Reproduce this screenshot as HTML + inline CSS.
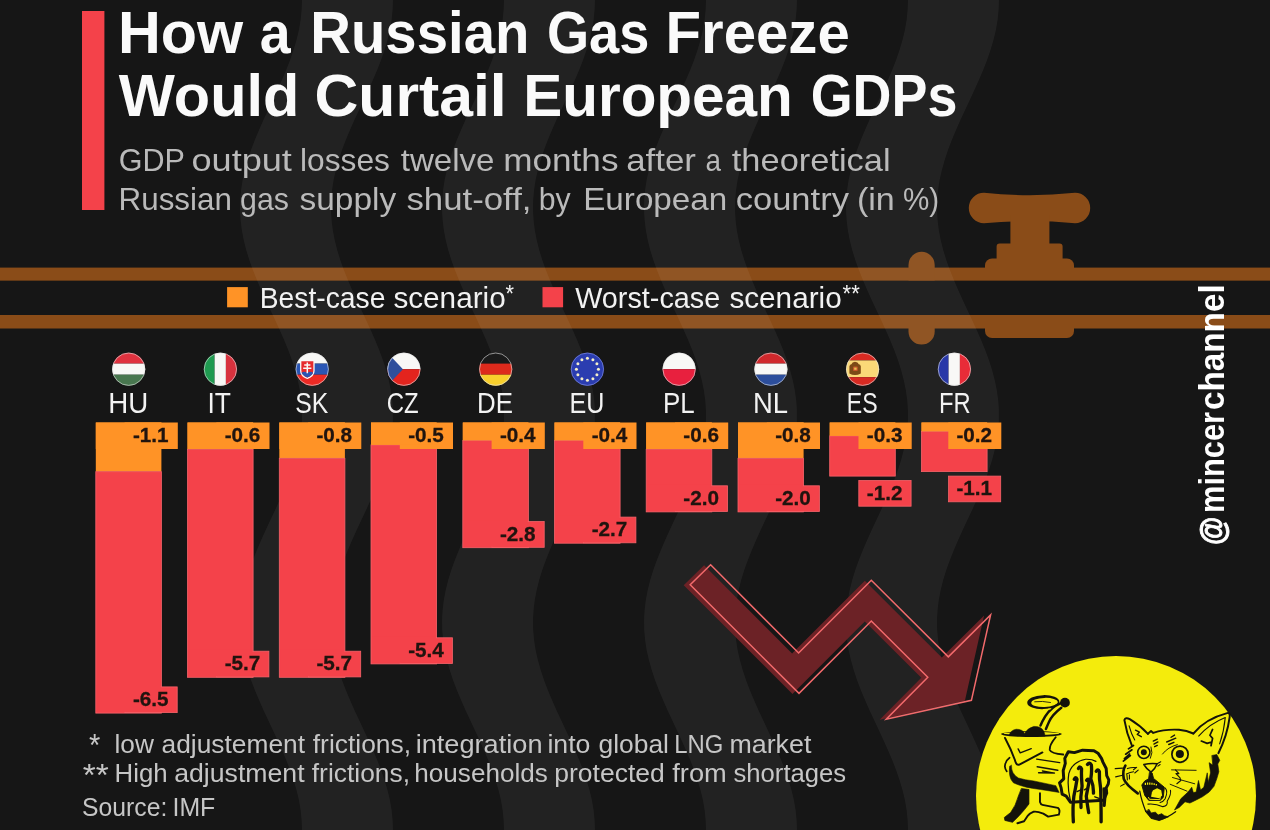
<!DOCTYPE html>
<html lang="en"><head><meta charset="utf-8"><title>How a Russian Gas Freeze Would Curtail European GDPs</title>
<style>
html,body{margin:0;padding:0;background:#161616;}
body{width:1270px;height:830px;overflow:hidden;}
svg{display:block;will-change:transform;}
text{font-family:"Liberation Sans", sans-serif;}
.t{font-weight:700;font-size:59px;fill:#fafafa;}
.st{font-size:32px;fill:#bababa;}
.lg{font-size:29.5px;fill:#f2f2f2;}
.cc{font-size:29.5px;fill:#f2f2f2;}
.v{font-weight:700;font-size:20.7px;fill:#20140f;stroke:#20140f;stroke-width:0.3px;}
.fn{font-size:25px;fill:#c6c6c6;}
.ch{font-weight:700;font-size:35.5px;fill:#ffffff;}
</style></head><body>
<svg width="1270" height="830" viewBox="0 0 1270 830">
<defs><clipPath id="fc"><circle cx="0" cy="0" r="16.5"/></clipPath></defs>
<rect width="1270" height="830" fill="#161616"/>
<g id="pipes" fill="#8a4c18">
<rect x="0" y="267.6" width="1270" height="13.2"/>
<rect x="0" y="315.0" width="1270" height="13.5"/>
<rect x="908.5" y="251.8" width="26.2" height="92.8" rx="13.1"/>
<path d="M984 192.8 Q1029.5 197.5 1075 192.8 A15.2 15.2 0 0 1 1075 223.2 Q1029.5 218.8 984 223.2 A15.2 15.2 0 0 1 984 192.8Z"/>
<rect x="1010.4" y="215" width="39" height="32"/>
<path d="M996.6 246.4 a3 3 0 0 1 3 -3 h60 a3 3 0 0 1 3 3 v14 h-66z"/>
<path d="M985 268.5 v-3 a7 7 0 0 1 7 -7 h75 a7 7 0 0 1 7 7 v3z"/>
<path d="M985 328 h89 v3 a7 7 0 0 1 -7 7 h-75 a7 7 0 0 1 -7 -7z"/>
</g>
<rect x="0" y="280.8" width="1270" height="34.2" fill="#161616"/>
<g id="waves" fill="#ffffff" fill-opacity="0.055">
<path d="M301.6 -10.0 L302.0 0.0 L301.6 10.0 L300.6 20.0 L298.9 30.0 L296.5 40.0 L293.5 50.0 L290.1 60.0 L286.2 70.0 L281.9 80.0 L277.4 90.0 L272.8 100.0 L268.1 110.0 L263.4 120.0 L259.0 130.0 L254.8 140.0 L251.0 150.0 L247.7 160.0 L244.9 170.0 L242.6 180.0 L241.1 190.0 L240.2 200.0 L240.0 210.0 L240.6 220.0 L241.8 230.0 L243.7 240.0 L246.2 250.0 L249.3 260.0 L252.9 270.0 L256.9 280.0 L261.2 290.0 L265.7 300.0 L270.4 310.0 L275.1 320.0 L279.7 330.0 L284.1 340.0 L288.2 350.0 L291.9 360.0 L295.1 370.0 L297.7 380.0 L299.8 390.0 L301.2 400.0 L301.9 410.0 L301.9 420.0 L301.2 430.0 L299.8 440.0 L297.7 450.0 L295.1 460.0 L291.9 470.0 L288.2 480.0 L284.1 490.0 L279.7 500.0 L275.1 510.0 L270.4 520.0 L265.7 530.0 L261.2 540.0 L256.9 550.0 L252.9 560.0 L249.3 570.0 L246.2 580.0 L243.7 590.0 L241.8 600.0 L240.6 610.0 L240.0 620.0 L240.2 630.0 L241.1 640.0 L242.6 650.0 L244.9 660.0 L247.7 670.0 L251.0 680.0 L254.8 690.0 L259.0 700.0 L263.4 710.0 L268.1 720.0 L272.8 730.0 L277.4 740.0 L281.9 750.0 L286.2 760.0 L290.1 770.0 L293.5 780.0 L296.5 790.0 L298.9 800.0 L300.6 810.0 L301.6 820.0 L302.0 830.0 L301.6 840.0 L392.6 840.0 L393.0 830.0 L392.6 820.0 L391.6 810.0 L389.9 800.0 L387.5 790.0 L384.5 780.0 L381.1 770.0 L377.2 760.0 L372.9 750.0 L368.4 740.0 L363.8 730.0 L359.1 720.0 L354.4 710.0 L350.0 700.0 L345.8 690.0 L342.0 680.0 L338.7 670.0 L335.9 660.0 L333.6 650.0 L332.1 640.0 L331.2 630.0 L331.0 620.0 L331.6 610.0 L332.8 600.0 L334.7 590.0 L337.2 580.0 L340.3 570.0 L343.9 560.0 L347.9 550.0 L352.2 540.0 L356.7 530.0 L361.4 520.0 L366.1 510.0 L370.7 500.0 L375.1 490.0 L379.2 480.0 L382.9 470.0 L386.1 460.0 L388.7 450.0 L390.8 440.0 L392.2 430.0 L392.9 420.0 L392.9 410.0 L392.2 400.0 L390.8 390.0 L388.7 380.0 L386.1 370.0 L382.9 360.0 L379.2 350.0 L375.1 340.0 L370.7 330.0 L366.1 320.0 L361.4 310.0 L356.7 300.0 L352.2 290.0 L347.9 280.0 L343.9 270.0 L340.3 260.0 L337.2 250.0 L334.7 240.0 L332.8 230.0 L331.6 220.0 L331.0 210.0 L331.2 200.0 L332.1 190.0 L333.6 180.0 L335.9 170.0 L338.7 160.0 L342.0 150.0 L345.8 140.0 L350.0 130.0 L354.4 120.0 L359.1 110.0 L363.8 100.0 L368.4 90.0 L372.9 80.0 L377.2 70.0 L381.1 60.0 L384.5 50.0 L387.5 40.0 L389.9 30.0 L391.6 20.0 L392.6 10.0 L393.0 0.0 L392.6 -10.0Z"/>
<path d="M503.6 -10.0 L504.0 0.0 L503.6 10.0 L502.6 20.0 L500.9 30.0 L498.5 40.0 L495.5 50.0 L492.1 60.0 L488.2 70.0 L483.9 80.0 L479.4 90.0 L474.8 100.0 L470.1 110.0 L465.4 120.0 L461.0 130.0 L456.8 140.0 L453.0 150.0 L449.7 160.0 L446.9 170.0 L444.6 180.0 L443.1 190.0 L442.2 200.0 L442.0 210.0 L442.6 220.0 L443.8 230.0 L445.7 240.0 L448.2 250.0 L451.3 260.0 L454.9 270.0 L458.9 280.0 L463.2 290.0 L467.7 300.0 L472.4 310.0 L477.1 320.0 L481.7 330.0 L486.1 340.0 L490.2 350.0 L493.9 360.0 L497.1 370.0 L499.7 380.0 L501.8 390.0 L503.2 400.0 L503.9 410.0 L503.9 420.0 L503.2 430.0 L501.8 440.0 L499.7 450.0 L497.1 460.0 L493.9 470.0 L490.2 480.0 L486.1 490.0 L481.7 500.0 L477.1 510.0 L472.4 520.0 L467.7 530.0 L463.2 540.0 L458.9 550.0 L454.9 560.0 L451.3 570.0 L448.2 580.0 L445.7 590.0 L443.8 600.0 L442.6 610.0 L442.0 620.0 L442.2 630.0 L443.1 640.0 L444.6 650.0 L446.9 660.0 L449.7 670.0 L453.0 680.0 L456.8 690.0 L461.0 700.0 L465.4 710.0 L470.1 720.0 L474.8 730.0 L479.4 740.0 L483.9 750.0 L488.2 760.0 L492.1 770.0 L495.5 780.0 L498.5 790.0 L500.9 800.0 L502.6 810.0 L503.6 820.0 L504.0 830.0 L503.6 840.0 L594.6 840.0 L595.0 830.0 L594.6 820.0 L593.6 810.0 L591.9 800.0 L589.5 790.0 L586.5 780.0 L583.1 770.0 L579.2 760.0 L574.9 750.0 L570.4 740.0 L565.8 730.0 L561.1 720.0 L556.4 710.0 L552.0 700.0 L547.8 690.0 L544.0 680.0 L540.7 670.0 L537.9 660.0 L535.6 650.0 L534.1 640.0 L533.2 630.0 L533.0 620.0 L533.6 610.0 L534.8 600.0 L536.7 590.0 L539.2 580.0 L542.3 570.0 L545.9 560.0 L549.9 550.0 L554.2 540.0 L558.7 530.0 L563.4 520.0 L568.1 510.0 L572.7 500.0 L577.1 490.0 L581.2 480.0 L584.9 470.0 L588.1 460.0 L590.7 450.0 L592.8 440.0 L594.2 430.0 L594.9 420.0 L594.9 410.0 L594.2 400.0 L592.8 390.0 L590.7 380.0 L588.1 370.0 L584.9 360.0 L581.2 350.0 L577.1 340.0 L572.7 330.0 L568.1 320.0 L563.4 310.0 L558.7 300.0 L554.2 290.0 L549.9 280.0 L545.9 270.0 L542.3 260.0 L539.2 250.0 L536.7 240.0 L534.8 230.0 L533.6 220.0 L533.0 210.0 L533.2 200.0 L534.1 190.0 L535.6 180.0 L537.9 170.0 L540.7 160.0 L544.0 150.0 L547.8 140.0 L552.0 130.0 L556.4 120.0 L561.1 110.0 L565.8 100.0 L570.4 90.0 L574.9 80.0 L579.2 70.0 L583.1 60.0 L586.5 50.0 L589.5 40.0 L591.9 30.0 L593.6 20.0 L594.6 10.0 L595.0 0.0 L594.6 -10.0Z"/>
<path d="M705.6 -10.0 L706.0 0.0 L705.6 10.0 L704.6 20.0 L702.9 30.0 L700.5 40.0 L697.5 50.0 L694.1 60.0 L690.2 70.0 L685.9 80.0 L681.4 90.0 L676.8 100.0 L672.1 110.0 L667.4 120.0 L663.0 130.0 L658.8 140.0 L655.0 150.0 L651.7 160.0 L648.9 170.0 L646.6 180.0 L645.1 190.0 L644.2 200.0 L644.0 210.0 L644.6 220.0 L645.8 230.0 L647.7 240.0 L650.2 250.0 L653.3 260.0 L656.9 270.0 L660.9 280.0 L665.2 290.0 L669.7 300.0 L674.4 310.0 L679.1 320.0 L683.7 330.0 L688.1 340.0 L692.2 350.0 L695.9 360.0 L699.1 370.0 L701.7 380.0 L703.8 390.0 L705.2 400.0 L705.9 410.0 L705.9 420.0 L705.2 430.0 L703.8 440.0 L701.7 450.0 L699.1 460.0 L695.9 470.0 L692.2 480.0 L688.1 490.0 L683.7 500.0 L679.1 510.0 L674.4 520.0 L669.7 530.0 L665.2 540.0 L660.9 550.0 L656.9 560.0 L653.3 570.0 L650.2 580.0 L647.7 590.0 L645.8 600.0 L644.6 610.0 L644.0 620.0 L644.2 630.0 L645.1 640.0 L646.6 650.0 L648.9 660.0 L651.7 670.0 L655.0 680.0 L658.8 690.0 L663.0 700.0 L667.4 710.0 L672.1 720.0 L676.8 730.0 L681.4 740.0 L685.9 750.0 L690.2 760.0 L694.1 770.0 L697.5 780.0 L700.5 790.0 L702.9 800.0 L704.6 810.0 L705.6 820.0 L706.0 830.0 L705.6 840.0 L796.6 840.0 L797.0 830.0 L796.6 820.0 L795.6 810.0 L793.9 800.0 L791.5 790.0 L788.5 780.0 L785.1 770.0 L781.2 760.0 L776.9 750.0 L772.4 740.0 L767.8 730.0 L763.1 720.0 L758.4 710.0 L754.0 700.0 L749.8 690.0 L746.0 680.0 L742.7 670.0 L739.9 660.0 L737.6 650.0 L736.1 640.0 L735.2 630.0 L735.0 620.0 L735.6 610.0 L736.8 600.0 L738.7 590.0 L741.2 580.0 L744.3 570.0 L747.9 560.0 L751.9 550.0 L756.2 540.0 L760.7 530.0 L765.4 520.0 L770.1 510.0 L774.7 500.0 L779.1 490.0 L783.2 480.0 L786.9 470.0 L790.1 460.0 L792.7 450.0 L794.8 440.0 L796.2 430.0 L796.9 420.0 L796.9 410.0 L796.2 400.0 L794.8 390.0 L792.7 380.0 L790.1 370.0 L786.9 360.0 L783.2 350.0 L779.1 340.0 L774.7 330.0 L770.1 320.0 L765.4 310.0 L760.7 300.0 L756.2 290.0 L751.9 280.0 L747.9 270.0 L744.3 260.0 L741.2 250.0 L738.7 240.0 L736.8 230.0 L735.6 220.0 L735.0 210.0 L735.2 200.0 L736.1 190.0 L737.6 180.0 L739.9 170.0 L742.7 160.0 L746.0 150.0 L749.8 140.0 L754.0 130.0 L758.4 120.0 L763.1 110.0 L767.8 100.0 L772.4 90.0 L776.9 80.0 L781.2 70.0 L785.1 60.0 L788.5 50.0 L791.5 40.0 L793.9 30.0 L795.6 20.0 L796.6 10.0 L797.0 0.0 L796.6 -10.0Z"/>
<path d="M907.6 -10.0 L908.0 0.0 L907.6 10.0 L906.6 20.0 L904.9 30.0 L902.5 40.0 L899.5 50.0 L896.1 60.0 L892.2 70.0 L887.9 80.0 L883.4 90.0 L878.8 100.0 L874.1 110.0 L869.4 120.0 L865.0 130.0 L860.8 140.0 L857.0 150.0 L853.7 160.0 L850.9 170.0 L848.6 180.0 L847.1 190.0 L846.2 200.0 L846.0 210.0 L846.6 220.0 L847.8 230.0 L849.7 240.0 L852.2 250.0 L855.3 260.0 L858.9 270.0 L862.9 280.0 L867.2 290.0 L871.7 300.0 L876.4 310.0 L881.1 320.0 L885.7 330.0 L890.1 340.0 L894.2 350.0 L897.9 360.0 L901.1 370.0 L903.7 380.0 L905.8 390.0 L907.2 400.0 L907.9 410.0 L907.9 420.0 L907.2 430.0 L905.8 440.0 L903.7 450.0 L901.1 460.0 L897.9 470.0 L894.2 480.0 L890.1 490.0 L885.7 500.0 L881.1 510.0 L876.4 520.0 L871.7 530.0 L867.2 540.0 L862.9 550.0 L858.9 560.0 L855.3 570.0 L852.2 580.0 L849.7 590.0 L847.8 600.0 L846.6 610.0 L846.0 620.0 L846.2 630.0 L847.1 640.0 L848.6 650.0 L850.9 660.0 L853.7 670.0 L857.0 680.0 L860.8 690.0 L865.0 700.0 L869.4 710.0 L874.1 720.0 L878.8 730.0 L883.4 740.0 L887.9 750.0 L892.2 760.0 L896.1 770.0 L899.5 780.0 L902.5 790.0 L904.9 800.0 L906.6 810.0 L907.6 820.0 L908.0 830.0 L907.6 840.0 L998.6 840.0 L999.0 830.0 L998.6 820.0 L997.6 810.0 L995.9 800.0 L993.5 790.0 L990.5 780.0 L987.1 770.0 L983.2 760.0 L978.9 750.0 L974.4 740.0 L969.8 730.0 L965.1 720.0 L960.4 710.0 L956.0 700.0 L951.8 690.0 L948.0 680.0 L944.7 670.0 L941.9 660.0 L939.6 650.0 L938.1 640.0 L937.2 630.0 L937.0 620.0 L937.6 610.0 L938.8 600.0 L940.7 590.0 L943.2 580.0 L946.3 570.0 L949.9 560.0 L953.9 550.0 L958.2 540.0 L962.7 530.0 L967.4 520.0 L972.1 510.0 L976.7 500.0 L981.1 490.0 L985.2 480.0 L988.9 470.0 L992.1 460.0 L994.7 450.0 L996.8 440.0 L998.2 430.0 L998.9 420.0 L998.9 410.0 L998.2 400.0 L996.8 390.0 L994.7 380.0 L992.1 370.0 L988.9 360.0 L985.2 350.0 L981.1 340.0 L976.7 330.0 L972.1 320.0 L967.4 310.0 L962.7 300.0 L958.2 290.0 L953.9 280.0 L949.9 270.0 L946.3 260.0 L943.2 250.0 L940.7 240.0 L938.8 230.0 L937.6 220.0 L937.0 210.0 L937.2 200.0 L938.1 190.0 L939.6 180.0 L941.9 170.0 L944.7 160.0 L948.0 150.0 L951.8 140.0 L956.0 130.0 L960.4 120.0 L965.1 110.0 L969.8 100.0 L974.4 90.0 L978.9 80.0 L983.2 70.0 L987.1 60.0 L990.5 50.0 L993.5 40.0 L995.9 30.0 L997.6 20.0 L998.6 10.0 L999.0 0.0 L998.6 -10.0Z"/>
</g>
<rect x="82" y="11" width="22.4" height="199" fill="#f4424a"/>
<text class="t" y="52.7"><tspan x="118.0" textLength="125.1" lengthAdjust="spacingAndGlyphs">How</tspan> <tspan x="259.8" textLength="30.9" lengthAdjust="spacingAndGlyphs">a</tspan> <tspan x="310.3" textLength="219.1" lengthAdjust="spacingAndGlyphs">Russian</tspan> <tspan x="546.9" textLength="102.4" lengthAdjust="spacingAndGlyphs">Gas</tspan> <tspan x="665.5" textLength="184.3" lengthAdjust="spacingAndGlyphs">Freeze</tspan></text>
<text class="t" y="115.6"><tspan x="118.8" textLength="180.6" lengthAdjust="spacingAndGlyphs">Would</tspan> <tspan x="314.5" textLength="192.2" lengthAdjust="spacingAndGlyphs">Curtail</tspan> <tspan x="523.2" textLength="269.6" lengthAdjust="spacingAndGlyphs">European</tspan> <tspan x="810.7" textLength="146.7" lengthAdjust="spacingAndGlyphs">GDPs</tspan></text>
<text class="st" y="171.0"><tspan x="118.7" textLength="65.7" lengthAdjust="spacingAndGlyphs">GDP</tspan> <tspan x="191.5" textLength="100.4" lengthAdjust="spacingAndGlyphs">output</tspan> <tspan x="300.0" textLength="89.9" lengthAdjust="spacingAndGlyphs">losses</tspan> <tspan x="400.8" textLength="93.7" lengthAdjust="spacingAndGlyphs">twelve</tspan> <tspan x="503.2" textLength="115.3" lengthAdjust="spacingAndGlyphs">months</tspan> <tspan x="626.2" textLength="69.8" lengthAdjust="spacingAndGlyphs">after</tspan> <tspan x="705.5" textLength="15.5" lengthAdjust="spacingAndGlyphs">a</tspan> <tspan x="731.8" textLength="158.8" lengthAdjust="spacingAndGlyphs">theoretical</tspan></text>
<text class="st" y="210.0"><tspan x="118.6" textLength="113.3" lengthAdjust="spacingAndGlyphs">Russian</tspan> <tspan x="240.1" textLength="48.9" lengthAdjust="spacingAndGlyphs">gas</tspan> <tspan x="299.5" textLength="96.7" lengthAdjust="spacingAndGlyphs">supply</tspan> <tspan x="406.4" textLength="125.1" lengthAdjust="spacingAndGlyphs">shut-off,</tspan> <tspan x="538.8" textLength="31.9" lengthAdjust="spacingAndGlyphs">by</tspan> <tspan x="583.2" textLength="144.1" lengthAdjust="spacingAndGlyphs">European</tspan> <tspan x="735.7" textLength="113.2" lengthAdjust="spacingAndGlyphs">country</tspan> <tspan x="856.9" textLength="37.9" lengthAdjust="spacingAndGlyphs">(in</tspan> <tspan x="903.0" textLength="36.2" lengthAdjust="spacingAndGlyphs">%)</tspan></text>
<rect x="227.1" y="287.1" width="20.7" height="20.2" fill="#ff9326"/>
<text class="lg" y="307.7"><tspan x="259.7" textLength="125.7" lengthAdjust="spacingAndGlyphs">Best-case</tspan> <tspan x="393.4" textLength="112.3" lengthAdjust="spacingAndGlyphs">scenario</tspan></text>
<text class="lg" y="301.7" style="font-size:23px"><tspan x="505.6" textLength="8.5" lengthAdjust="spacingAndGlyphs">*</tspan></text>
<rect x="542.5" y="287.1" width="20.6" height="20.2" fill="#f4424a"/>
<text class="lg" y="307.7"><tspan x="575.2" textLength="145.1" lengthAdjust="spacingAndGlyphs">Worst-case</tspan> <tspan x="729.4" textLength="112.3" lengthAdjust="spacingAndGlyphs">scenario</tspan></text>
<text class="lg" y="301.7" style="font-size:23px"><tspan x="842.6" textLength="17.2" lengthAdjust="spacingAndGlyphs">**</tspan></text>
<rect x="95.8" y="422.5" width="65.6" height="49.2" fill="#ff9326"/>
<rect x="95.8" y="471.7" width="65.6" height="241.4" fill="#f4424a" stroke="#f7636a" stroke-width="0.8"/>
<rect x="124.6" y="422.5" width="53.2" height="26.5" fill="#ff9326"/>
<rect x="95.8" y="422.5" width="65.6" height="26.5" fill="#ff9326"/>
<rect x="124.9" y="686.9" width="52.3" height="25.7" fill="#f4424a" stroke="#f7636a" stroke-width="0.8"/>
<rect x="96.8" y="685.5" width="64.0" height="26.5" fill="#f4424a"/>
<text class="v" x="168.6" y="441.9" text-anchor="end">-1.1</text>
<text class="v" x="168.6" y="706.1" text-anchor="end">-6.5</text>
<text class="cc" y="412.6"><tspan x="108.3" textLength="40.0" lengthAdjust="spacingAndGlyphs">HU</tspan></text>
<rect x="187.5" y="422.5" width="65.6" height="26.8" fill="#ff9326"/>
<rect x="187.5" y="449.3" width="65.6" height="228.0" fill="#f4424a" stroke="#f7636a" stroke-width="0.8"/>
<rect x="216.3" y="422.5" width="53.2" height="26.5" fill="#ff9326"/>
<rect x="187.5" y="422.5" width="65.6" height="26.5" fill="#ff9326"/>
<rect x="216.6" y="651.2" width="52.3" height="25.7" fill="#f4424a" stroke="#f7636a" stroke-width="0.8"/>
<rect x="188.5" y="649.8" width="64.0" height="26.5" fill="#f4424a"/>
<text class="v" x="260.3" y="441.9" text-anchor="end">-0.6</text>
<text class="v" x="260.3" y="670.4" text-anchor="end">-5.7</text>
<text class="cc" y="412.6"><tspan x="207.5" textLength="23.5" lengthAdjust="spacingAndGlyphs">IT</tspan></text>
<rect x="279.3" y="422.5" width="65.6" height="35.8" fill="#ff9326"/>
<rect x="279.3" y="458.3" width="65.6" height="219.0" fill="#f4424a" stroke="#f7636a" stroke-width="0.8"/>
<rect x="308.1" y="422.5" width="53.2" height="26.5" fill="#ff9326"/>
<rect x="279.3" y="422.5" width="65.6" height="26.5" fill="#ff9326"/>
<rect x="308.4" y="651.2" width="52.3" height="25.7" fill="#f4424a" stroke="#f7636a" stroke-width="0.8"/>
<rect x="280.3" y="649.8" width="64.0" height="26.5" fill="#f4424a"/>
<text class="v" x="352.1" y="441.9" text-anchor="end">-0.8</text>
<text class="v" x="352.1" y="670.4" text-anchor="end">-5.7</text>
<text class="cc" y="412.6"><tspan x="295.2" textLength="33.0" lengthAdjust="spacingAndGlyphs">SK</tspan></text>
<rect x="371.0" y="422.5" width="65.6" height="22.4" fill="#ff9326"/>
<rect x="371.0" y="444.9" width="65.6" height="219.0" fill="#f4424a" stroke="#f7636a" stroke-width="0.8"/>
<rect x="399.8" y="422.5" width="53.2" height="26.5" fill="#ff9326"/>
<rect x="371.0" y="422.5" width="65.6" height="22.4" fill="#ff9326"/>
<rect x="400.1" y="637.8" width="52.3" height="25.7" fill="#f4424a" stroke="#f7636a" stroke-width="0.8"/>
<rect x="372.0" y="636.4" width="64.0" height="26.5" fill="#f4424a"/>
<text class="v" x="443.8" y="441.9" text-anchor="end">-0.5</text>
<text class="v" x="443.8" y="657.0" text-anchor="end">-5.4</text>
<text class="cc" y="412.6"><tspan x="386.8" textLength="31.9" lengthAdjust="spacingAndGlyphs">CZ</tspan></text>
<rect x="462.8" y="422.5" width="65.6" height="17.9" fill="#ff9326"/>
<rect x="462.8" y="440.4" width="65.6" height="107.3" fill="#f4424a" stroke="#f7636a" stroke-width="0.8"/>
<rect x="491.6" y="422.5" width="53.2" height="26.5" fill="#ff9326"/>
<rect x="462.8" y="422.5" width="65.6" height="17.9" fill="#ff9326"/>
<rect x="491.9" y="521.6" width="52.3" height="25.7" fill="#f4424a" stroke="#f7636a" stroke-width="0.8"/>
<rect x="463.8" y="520.2" width="64.0" height="26.5" fill="#f4424a"/>
<text class="v" x="535.6" y="441.9" text-anchor="end">-0.4</text>
<text class="v" x="535.6" y="540.8" text-anchor="end">-2.8</text>
<text class="cc" y="412.6"><tspan x="477.1" textLength="35.9" lengthAdjust="spacingAndGlyphs">DE</tspan></text>
<rect x="554.5" y="422.5" width="65.6" height="17.9" fill="#ff9326"/>
<rect x="554.5" y="440.4" width="65.6" height="102.8" fill="#f4424a" stroke="#f7636a" stroke-width="0.8"/>
<rect x="583.3" y="422.5" width="53.2" height="26.5" fill="#ff9326"/>
<rect x="554.5" y="422.5" width="65.6" height="17.9" fill="#ff9326"/>
<rect x="583.6" y="517.1" width="52.3" height="25.7" fill="#f4424a" stroke="#f7636a" stroke-width="0.8"/>
<rect x="555.5" y="515.7" width="64.0" height="26.5" fill="#f4424a"/>
<text class="v" x="627.3" y="441.9" text-anchor="end">-0.4</text>
<text class="v" x="627.3" y="536.3" text-anchor="end">-2.7</text>
<text class="cc" y="412.6"><tspan x="569.6" textLength="34.9" lengthAdjust="spacingAndGlyphs">EU</tspan></text>
<rect x="646.2" y="422.5" width="65.6" height="26.8" fill="#ff9326"/>
<rect x="646.2" y="449.3" width="65.6" height="62.6" fill="#f4424a" stroke="#f7636a" stroke-width="0.8"/>
<rect x="675.0" y="422.5" width="53.2" height="26.5" fill="#ff9326"/>
<rect x="646.2" y="422.5" width="65.6" height="26.5" fill="#ff9326"/>
<rect x="675.3" y="485.8" width="52.3" height="25.7" fill="#f4424a" stroke="#f7636a" stroke-width="0.8"/>
<rect x="647.2" y="484.4" width="64.0" height="26.5" fill="#f4424a"/>
<text class="v" x="719.0" y="441.9" text-anchor="end">-0.6</text>
<text class="v" x="719.0" y="505.0" text-anchor="end">-2.0</text>
<text class="cc" y="412.6"><tspan x="662.9" textLength="31.7" lengthAdjust="spacingAndGlyphs">PL</tspan></text>
<rect x="738.0" y="422.5" width="65.6" height="35.8" fill="#ff9326"/>
<rect x="738.0" y="458.3" width="65.6" height="53.6" fill="#f4424a" stroke="#f7636a" stroke-width="0.8"/>
<rect x="766.8" y="422.5" width="53.2" height="26.5" fill="#ff9326"/>
<rect x="738.0" y="422.5" width="65.6" height="26.5" fill="#ff9326"/>
<rect x="767.1" y="485.8" width="52.3" height="25.7" fill="#f4424a" stroke="#f7636a" stroke-width="0.8"/>
<rect x="739.0" y="484.4" width="64.0" height="26.5" fill="#f4424a"/>
<text class="v" x="810.8" y="441.9" text-anchor="end">-0.8</text>
<text class="v" x="810.8" y="505.0" text-anchor="end">-2.0</text>
<text class="cc" y="412.6"><tspan x="753.0" textLength="35.1" lengthAdjust="spacingAndGlyphs">NL</tspan></text>
<rect x="829.7" y="422.5" width="65.6" height="13.4" fill="#ff9326"/>
<rect x="829.7" y="435.9" width="65.6" height="40.2" fill="#f4424a" stroke="#f7636a" stroke-width="0.8"/>
<rect x="858.5" y="422.5" width="53.2" height="26.5" fill="#ff9326"/>
<rect x="829.7" y="422.5" width="65.6" height="13.4" fill="#ff9326"/>
<rect x="858.8" y="480.5" width="52.3" height="25.7" fill="#f4424a" stroke="#f7636a" stroke-width="0.8"/>
<text class="v" x="902.5" y="441.9" text-anchor="end">-0.3</text>
<text class="v" x="902.5" y="499.7" text-anchor="end">-1.2</text>
<text class="cc" y="412.6"><tspan x="846.8" textLength="30.8" lengthAdjust="spacingAndGlyphs">ES</tspan></text>
<rect x="921.5" y="422.5" width="65.6" height="8.9" fill="#ff9326"/>
<rect x="921.5" y="431.4" width="65.6" height="40.2" fill="#f4424a" stroke="#f7636a" stroke-width="0.8"/>
<rect x="948.3" y="422.5" width="53.0" height="26.5" fill="#ff9326"/>
<rect x="921.5" y="422.5" width="65.6" height="8.9" fill="#ff9326"/>
<rect x="948.6" y="476.1" width="52.1" height="25.7" fill="#f4424a" stroke="#f7636a" stroke-width="0.8"/>
<text class="v" x="992.1" y="441.9" text-anchor="end">-0.2</text>
<text class="v" x="992.1" y="495.3" text-anchor="end">-1.1</text>
<text class="cc" y="412.6"><tspan x="939.1" textLength="31.7" lengthAdjust="spacingAndGlyphs">FR</tspan></text>
<g transform="translate(128.7 369.2)" clip-path="url(#fc)"><rect x="-18" y="-18" width="36" height="12.4" fill="#e0323f"/><rect x="-18" y="-5.6" width="36" height="11.1" fill="#f8f8f6"/><rect x="-18" y="5.5" width="36" height="13" fill="#48774f"/></g><circle cx="128.7" cy="369.2" r="16.2" fill="none" stroke="#e4e4e4" stroke-opacity="0.6" stroke-width="1"/>
<g transform="translate(220.4 369.2)" clip-path="url(#fc)"><rect x="-18" y="-18" width="12.2" height="36" fill="#1f9a50"/><rect x="-5.8" y="-18" width="11.3" height="36" fill="#f8f8f6"/><rect x="5.5" y="-18" width="13" height="36" fill="#d8323e"/></g><circle cx="220.4" cy="369.2" r="16.2" fill="none" stroke="#e4e4e4" stroke-opacity="0.6" stroke-width="1"/>
<g transform="translate(312.2 369.2)" clip-path="url(#fc)"><rect x="-18" y="-18" width="36" height="12.4" fill="#f8f8f6"/><rect x="-18" y="-5.6" width="36" height="11.1" fill="#2a56b4"/><rect x="-18" y="5.5" width="36" height="13" fill="#ee2a24"/><path d="M-11.5 -8.5 H1.8 V1.5 Q1.8 6.5 -4.9 9.2 Q-11.5 6.5 -11.5 1.5 Z" fill="#e62a2c" stroke="#f8f8f6" stroke-width="1.3"/><path d="M-10.6 3.6 Q-8 1.4 -4.9 3.8 Q-1.8 1.4 0.9 3.6 Q0 6.4 -4.9 8.4 Q-9.6 6.4 -10.6 3.6Z" fill="#2a56b4"/><path d="M-4.9 -6.8 V4 M-8 -4.2 H-1.8 M-9 -1 H-0.8" stroke="#f8f8f6" stroke-width="1.5" fill="none"/></g><circle cx="312.2" cy="369.2" r="16.2" fill="none" stroke="#e4e4e4" stroke-opacity="0.6" stroke-width="1"/>
<g transform="translate(403.9 369.2)" clip-path="url(#fc)"><rect x="-18" y="-18" width="36" height="18" fill="#f8f8f6"/><rect x="-18" y="0" width="36" height="18" fill="#e3241e"/><path d="M-18 -18 L-1 0 L-18 18 Z" fill="#2f4f9c"/></g><circle cx="403.9" cy="369.2" r="16.2" fill="none" stroke="#e4e4e4" stroke-opacity="0.6" stroke-width="1"/>
<g transform="translate(495.7 369.2)" clip-path="url(#fc)"><rect x="-18" y="-18" width="36" height="12.4" fill="#1a1a1a"/><rect x="-18" y="-5.6" width="36" height="11.1" fill="#dd2a1c"/><rect x="-18" y="5.5" width="36" height="13" fill="#f8cf2c"/></g><circle cx="495.7" cy="369.2" r="16.2" fill="none" stroke="#e4e4e4" stroke-opacity="0.6" stroke-width="1"/>
<g transform="translate(587.4 369.2)" clip-path="url(#fc)"><rect x="-18" y="-18" width="36" height="36" fill="#2b3db0"/><circle cx="0.0" cy="-11.0" r="1.5" fill="#f4eec8"/><circle cx="5.5" cy="-9.5" r="1.5" fill="#f4eec8"/><circle cx="9.5" cy="-5.5" r="1.5" fill="#f4eec8"/><circle cx="11.0" cy="-0.0" r="1.5" fill="#f4eec8"/><circle cx="9.5" cy="5.5" r="1.5" fill="#f4eec8"/><circle cx="5.5" cy="9.5" r="1.5" fill="#f4eec8"/><circle cx="0.0" cy="11.0" r="1.5" fill="#f4eec8"/><circle cx="-5.5" cy="9.5" r="1.5" fill="#f4eec8"/><circle cx="-9.5" cy="5.5" r="1.5" fill="#f4eec8"/><circle cx="-11.0" cy="0.0" r="1.5" fill="#f4eec8"/><circle cx="-9.5" cy="-5.5" r="1.5" fill="#f4eec8"/><circle cx="-5.5" cy="-9.5" r="1.5" fill="#f4eec8"/></g><circle cx="587.4" cy="369.2" r="16.2" fill="none" stroke="#8c98e8" stroke-opacity="0.6" stroke-width="1"/>
<g transform="translate(679.1 369.2)" clip-path="url(#fc)"><rect x="-18" y="-18" width="36" height="18" fill="#f8f8f6"/><rect x="-18" y="0" width="36" height="18" fill="#e8203e"/></g><circle cx="679.1" cy="369.2" r="16.2" fill="none" stroke="#e4e4e4" stroke-opacity="0.6" stroke-width="1"/>
<g transform="translate(770.9 369.2)" clip-path="url(#fc)"><rect x="-18" y="-18" width="36" height="12.4" fill="#d0282c"/><rect x="-18" y="-5.6" width="36" height="11.1" fill="#f8f8f6"/><rect x="-18" y="5.5" width="36" height="13" fill="#2c4e9c"/></g><circle cx="770.9" cy="369.2" r="16.2" fill="none" stroke="#e4e4e4" stroke-opacity="0.6" stroke-width="1"/>
<g transform="translate(862.6 369.2)" clip-path="url(#fc)"><rect x="-18" y="-18" width="36" height="9.2" fill="#d82a22"/><rect x="-18" y="-8.8" width="36" height="16.8" fill="#fad878"/><rect x="-18" y="8" width="36" height="10" fill="#d82a22"/><path d="M-13.2 -3 q0.5 -2 2 -2 q0.8 -2.2 3.6 -2.4 q3 0.2 3.8 2.4 q1.6 0 2 2 v7.2 q-3 1.6 -5.8 1.6 q-3 0 -5.6 -1.6z" fill="#7c4a16"/><rect x="-9.6" y="-2.6" width="4.8" height="4.4" rx="1" fill="#c4562a"/><rect x="-8.4" y="-1.6" width="2.4" height="2.2" fill="#e8c050"/></g><circle cx="862.6" cy="369.2" r="16.2" fill="none" stroke="#e4e4e4" stroke-opacity="0.6" stroke-width="1"/>
<g transform="translate(954.4 369.2)" clip-path="url(#fc)"><rect x="-18" y="-18" width="12.2" height="36" fill="#2838a8"/><rect x="-5.8" y="-18" width="11.3" height="36" fill="#f8f8f6"/><rect x="5.5" y="-18" width="13" height="36" fill="#e82c38"/></g><circle cx="954.4" cy="369.2" r="16.2" fill="none" stroke="#e4e4e4" stroke-opacity="0.6" stroke-width="1"/>
<polygon points="704.1,565.3 792.1,653.5 864.8,580.8 941.8,657.4 984.1,615.4 964.9,700.8 879.7,719.8 921.3,677.8 864.8,621.5 792.5,693.9 683.7,585.3" fill="#6c2226"/>
<polygon points="710.6,564.8 798.6,653.0 871.3,580.3 948.3,656.9 990.6,614.9 971.4,700.3 886.2,719.3 927.8,677.3 871.3,621.0 799.0,693.4 690.2,584.8" fill="none" stroke="#f26a6c" stroke-width="1.5" stroke-linejoin="miter"/>
<text class="fn" y="756.0" style="font-size:30.5px"><tspan x="89.0" textLength="11.3" lengthAdjust="spacingAndGlyphs">*</tspan></text>
<text class="fn" y="753.0"><tspan x="114.5" textLength="39.4" lengthAdjust="spacingAndGlyphs">low</tspan> <tspan x="161.6" textLength="143.4" lengthAdjust="spacingAndGlyphs">adjustement</tspan> <tspan x="312.8" textLength="98.2" lengthAdjust="spacingAndGlyphs">frictions,</tspan> <tspan x="415.7" textLength="126.8" lengthAdjust="spacingAndGlyphs">integration</tspan> <tspan x="547.4" textLength="43.0" lengthAdjust="spacingAndGlyphs">into</tspan> <tspan x="598.5" textLength="70.5" lengthAdjust="spacingAndGlyphs">global</tspan> <tspan x="674.2" textLength="49.1" lengthAdjust="spacingAndGlyphs">LNG</tspan> <tspan x="729.4" textLength="82.0" lengthAdjust="spacingAndGlyphs">market</tspan></text>
<text class="fn" y="785.5" style="font-size:30.5px"><tspan x="82.7" textLength="26.0" lengthAdjust="spacingAndGlyphs">**</tspan></text>
<text class="fn" y="782.3"><tspan x="114.5" textLength="53.1" lengthAdjust="spacingAndGlyphs">High</tspan> <tspan x="174.2" textLength="130.4" lengthAdjust="spacingAndGlyphs">adjustment</tspan> <tspan x="311.8" textLength="98.2" lengthAdjust="spacingAndGlyphs">frictions,</tspan> <tspan x="414.3" textLength="133.5" lengthAdjust="spacingAndGlyphs">households</tspan> <tspan x="554.3" textLength="110.5" lengthAdjust="spacingAndGlyphs">protected</tspan> <tspan x="672.3" textLength="54.5" lengthAdjust="spacingAndGlyphs">from</tspan> <tspan x="733.5" textLength="112.7" lengthAdjust="spacingAndGlyphs">shortages</tspan></text>
<text class="fn" y="816.2"><tspan x="82.1" textLength="85.2" lengthAdjust="spacingAndGlyphs">Source:</tspan> <tspan x="172.5" textLength="42.8" lengthAdjust="spacingAndGlyphs">IMF</tspan></text>
<g transform="translate(1224.3 544.9) rotate(-90)"><text class="ch" y="0.0"><tspan x="-0.0" textLength="28.3" lengthAdjust="spacingAndGlyphs" style="stroke:#fff;stroke-width:0.9px">@</tspan><tspan x="32.0" textLength="100.9" lengthAdjust="spacingAndGlyphs">mincer</tspan><tspan x="134.9" textLength="125.7" lengthAdjust="spacingAndGlyphs">channel</tspan></text></g>
<circle cx="1116" cy="796" r="140" fill="#f4ec0c"/>
<g transform="translate(990 685) scale(0.17473)" fill="none" stroke="#14130a" stroke-width="12" stroke-linecap="round" stroke-linejoin="round">
<ellipse cx="305" cy="98" rx="92" ry="40" fill="#14130a" stroke="none" transform="rotate(-2 305 98)"/>
<ellipse cx="312" cy="100" rx="76" ry="26" fill="#f4ec0c" stroke="none" transform="rotate(-2 305 98)"/>
<path d="M256 96 Q300 90 346 100" stroke-width="5"/>
<circle cx="429" cy="101" r="28" fill="#14130a" stroke="none"/>
<path d="M406 104 Q348 128 316 180 Q298 210 289 232" stroke-width="14"/>
<path d="M408 130 Q356 170 338 210 Q328 232 320 252" stroke-width="14"/>
<path d="M330 136 Q345 150 352 132 Z" fill="#f4ec0c" stroke="none"/>
<ellipse cx="237" cy="281" rx="174" ry="17" fill="#14130a" stroke="none"/>
<ellipse cx="237" cy="277" rx="160" ry="8" fill="#f4ec0c" stroke="none"/>
<path d="M110 286 Q118 258 150 253 Q186 253 198 277 Q215 246 250 237 Q292 235 306 262 Q315 276 314 292 Z" fill="#14130a" stroke-width="3"/>
<path d="M86 303 Q120 366 142 428 Q150 462 168 456 L300 386" stroke-width="11"/>
<path d="M376 299 Q338 345 342 372 Q350 392 419 398" stroke-width="11"/>
<path d="M161 366 L173 388 L236 364" stroke-width="8"/>
<path d="M267 424 L399 444" stroke-width="8"/>
<path d="M270 468 L388 488 M278 502 L369 504 L300 492" stroke-width="8"/>
<path d="M112 416 Q88 432 85 466 Q86 482 96 494" stroke-width="10"/>
<path d="M123 460 Q120 506 162 532 Q200 544 250 549 L377 576 L396 615 L289 598 Q195 588 134 560 Q104 530 112 466 Z" fill="#14130a" stroke-width="3"/>
<path d="M181 593 L223 598 L223 681 Q200 712 168 747 L129 786 L85 775 L82 758 L118 730 Q148 690 162 637 Z" fill="#14130a" stroke-width="4"/>
<path d="M286 620 L286 670 Q290 684 300 686 L388 703 Q404 716 394 742 L333 753 L305 736 Q270 722 250 725 Q226 736 217 747 L195 780 L157 791" stroke-width="11"/>
<path d="M460 671 L436 636 L413 625 L407 589 L398 560 L422 537 L419 490 L431 449 L428 420 L448 382 L483 387 L530 373 L595 376 L618 390 L638 420 L647 443 L665 478 L668 519 L680 543 L677 566 L665 589 L668 619 L650 660 Z" stroke-width="17" fill="#f4ec0c"/>
<path d="M460 660 Q440 580 451 507 Q470 440 548 425 Q585 424 606 437" stroke-width="7"/>
<path d="M482 540 Q492 522 498 540 Q492 580 480 636 Q472 700 477 783" stroke-width="19"/>
<path d="M506 478 Q516 460 524 480 Q522 520 527 578 Q516 640 521 701" stroke-width="19"/>
<path d="M558 455 Q570 438 580 458 Q584 490 577 537 Q594 578 592 619" stroke-width="19"/>
<path d="M553 546 Q562 530 568 548 Q560 590 551 636 Q558 695 565 730" stroke-width="19"/>
<path d="M608 494 Q618 476 626 496 Q624 537 633 589 Q636 666 636 783" stroke-width="19"/>
<path d="M653 595 Q660 648 653 689" stroke-width="19"/>
<path d="M498 610 L520 600 M540 600 L556 590 M600 640 L628 650" stroke-width="8"/>
</g>
<g transform="translate(1110 700) scale(0.15662)" fill="none" stroke="#14130a" stroke-width="12.5" stroke-linecap="round" stroke-linejoin="round">
<path d="M140 292 Q105 210 92 128 Q98 108 126 122 Q190 160 242 216"/>
<path d="M122 165 Q135 215 158 255" stroke-width="7"/>
<path d="M163 193 L188 205 L174 220 L200 234" stroke-width="9"/>
<path d="M242 216 L262 198 L276 210 Q350 185 440 190 Q490 195 532 214"/>
<path d="M532 214 Q610 120 748 84 Q768 80 764 110 Q748 230 692 340"/>
<path d="M566 230 Q640 150 736 112 Q728 200 700 280" stroke-width="7"/>
<path d="M655 188 L638 225 L655 245 L645 292 M583 262 L620 277 L648 268" stroke-width="11"/>
<circle cx="216" cy="334" r="39" stroke-width="10"/><circle cx="216" cy="334" r="19" fill="#14130a" stroke="none"/>
<path d="M262 300 Q276 336 258 372" stroke-width="6"/>
<circle cx="447" cy="346" r="52" stroke-width="11"/><circle cx="446" cy="345" r="26" fill="#14130a" stroke="none"/>
<path d="M276 262 L302 250 M280 281 L306 268 M285 298 L302 290 M362 268 L420 244 M375 284 L408 270 M390 238 L412 224" stroke-width="9"/>
<path d="M335 345 Q370 300 430 285" stroke-width="6"/>
<path d="M216 412 Q258 402 301 407 Q288 440 262 461 Q234 442 216 412Z" stroke-width="10"/>
<path d="M301 407 L324 394 M306 422 L320 412" stroke-width="7"/>
<path d="M254 463 L269 466 L278 501 L347 557 L340 622 L320 641 L248 641 L222 609 L203 543 L222 517 L245 504Z" fill="#14130a" stroke-width="6"/>
<path d="M275 576 L301 563 L327 576 L333 609 L314 628 L262 618 L268 589Z" fill="#f4ec0c" stroke="none"/>
<path d="M226 528 v14 M240 527 v14 M254 527 v14 M268 528 v13 M282 531 v12 M296 536 v10" stroke="#f4ec0c" stroke-width="8" stroke-linecap="butt"/>
<path d="M246 622 L252 634 L318 636 L322 618" stroke="#f4ec0c" stroke-width="6"/>
<path d="M353 563 Q372 585 352 630 Q340 650 320 655" stroke-width="7"/>
<path d="M386 576 Q392 605 365 646 Q372 676 338 681 Q290 660 242 665" stroke-width="7"/>
<path d="M190 582 Q200 640 229 713 Q262 752 314 766 Q366 752 419 713" stroke-width="8"/>
<path d="M229 713 L262 756 L314 770 L373 746 L347 739 L330 726 L307 735 L290 716 L262 722 L250 700Z" fill="#14130a" stroke-width="5"/>
<path d="M652 354 L682 348 L701 385 L688 409 L695 458 L682 502 L664 551 L633 588 L590 618 L541 643 L510 658 L479 650 L442 686 L412 702 L452 631 L498 588 L522 557 L532 591 L550 588 L565 514 L578 575 L599 557 L621 465 L627 526 L642 465 L633 400 L655 415Z" fill="#14130a" stroke-width="4"/>
<path d="M98 419 Q78 452 88 504 Q100 540 177 596" stroke-width="17"/>
<path d="M150 290 L118 312 M140 318 L100 346 M85 390 L130 355 M92 375 L125 345" stroke-width="11"/>
<path d="M111 438 Q140 428 165 432 M105 472 Q130 462 150 458 M108 478 L111 510 M124 478 L124 504 M150 445 L170 430 M158 466 L180 448" stroke-width="7"/>
<path d="M80 435 L33 438 M80 481 L36 491 M92 537 L68 550" stroke-width="7"/>
<path d="M393 446 L550 449 M399 495 L541 535 M384 538 L492 582" stroke-width="6"/>
<path d="M418 446 L440 470 L421 470 L446 495 L452 514 L427 535" stroke-width="7"/>
</g>
</svg>
</body></html>
